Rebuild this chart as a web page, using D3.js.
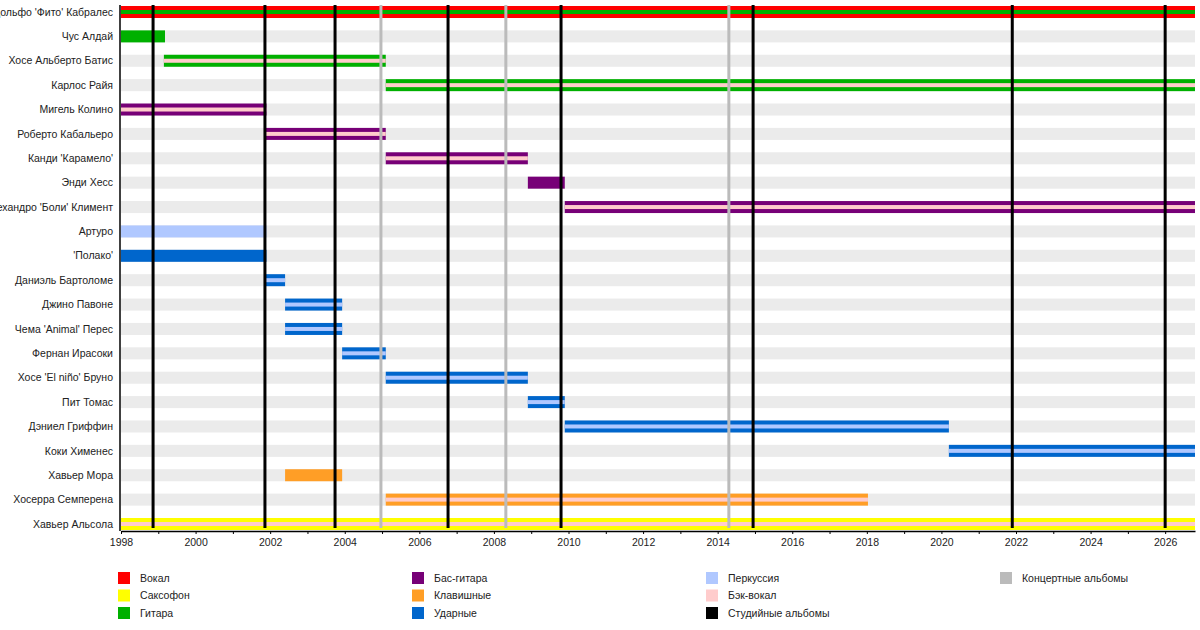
<!DOCTYPE html>
<html><head><meta charset="utf-8">
<script src="https://cdn.jsdelivr.net/npm/d3@7"></script>
<style>body{margin:0;background:#fff;font-family:"Liberation Sans",Arial,sans-serif}</style>
</head><body><div id="chart"></div>
<script>
const width = 1200, height = 630;

const members = ["Адольфо 'Фито' Кабралес","Чус Алдай","Хосе Альберто Батис","Карлос Райя","Мигель Колино","Роберто Кабальеро","Канди 'Карамело'","Энди Хесс","Алехандро 'Боли' Климент","Артуро","'Полако'","Даниэль Бартоломе","Джино Павоне","Чема 'Animal' Перес","Фернан Ирасоки","Хосе 'El niño' Бруно","Пит Томас","Дэниел Гриффин","Коки Хименес","Хавьер Мора","Хосерра Семперена","Хавьер Альсола"];
const END = 2026.8;
// [member, start, end, main role, second role]
const periods = [
  ["Адольфо 'Фито' Кабралес",1998,END,"vocal","guitar"],
  ["Чус Алдай",1998,1999.18,"guitar",null],
  ["Хосе Альберто Батис",1999.15,2005.1,"guitar","back"],
  ["Карлос Райя",2005.1,END,"guitar","back"],
  ["Мигель Колино",1998,2001.9,"bass","back"],
  ["Роберто Кабальеро",2001.88,2005.1,"bass","back"],
  ["Канди 'Карамело'",2005.1,2008.91,"bass","back"],
  ["Энди Хесс",2008.91,2009.9,"bass",null],
  ["Алехандро 'Боли' Климент",2009.9,END,"bass","back"],
  ["Артуро",1998,2001.9,"perc",null],
  ["'Полако'",1998,2001.9,"drums",null],
  ["Даниэль Бартоломе",2001.88,2002.4,"drums","perc"],
  ["Джино Павоне",2002.4,2003.93,"drums","perc"],
  ["Чема 'Animal' Перес",2002.4,2003.93,"drums","perc"],
  ["Фернан Ирасоки",2003.93,2005.1,"drums","perc"],
  ["Хосе 'El niño' Бруно",2005.1,2008.91,"drums","perc"],
  ["Пит Томас",2008.91,2009.9,"drums","perc"],
  ["Дэниел Гриффин",2009.9,2020.2,"drums","perc"],
  ["Коки Хименес",2020.2,END,"drums","perc"],
  ["Хавьер Мора",2002.4,2003.93,"keys",null],
  ["Хосерра Семперена",2005.1,2018.03,"keys","back"],
  ["Хавьер Альсола",1998,END,"sax","back"]
];
const studioAlbums = [1998.86,2001.86,2003.74,2006.77,2009.8,2014.95,2021.9,2026];
const liveAlbums = [2004.97,2008.32,2014.3];

const roles = ["vocal","sax","guitar","bass","keys","drums","perc","back","studio","live"];
const roleNames = ["Вокал","Саксофон","Гитара","Бас-гитара","Клавишные","Ударные","Перкуссия","Бэк-вокал","Студийные альбомы","Концертные альбомы"];
const roleColors = ["#ff0000","#ffff00","#00b000","#770077","#ff9e26","#0066cc","#b0c8ff","#ffcccc","#000000","#bbbbbb"];
const color = d3.scaleOrdinal(roles, roleColors);

const svg = d3.select("#chart").append("svg").attr("width", width).attr("height", height)
  .style("font-family", "'Liberation Sans', Arial, sans-serif");

const x = d3.scaleLinear().domain([1998, END]).range([121, 1195]);
const y = d3.scalePoint().domain(members).range([12, 524]);
const bh = 12;

// row bands
svg.selectAll("rect.band").data(members).enter().append("rect")
  .attr("x", 121).attr("width", 1195 - 121)
  .attr("y", d => y(d) - bh / 2).attr("height", bh).attr("fill", "#ebebeb");

// bars
svg.selectAll("rect.bar").data(periods).enter().append("rect")
  .attr("x", d => x(d[1])).attr("width", d => x(d[2]) - x(d[1]))
  .attr("y", d => y(d[0]) - bh / 2).attr("height", bh).attr("fill", d => color(d[3]));
svg.selectAll("rect.stripe").data(periods.filter(d => d[4])).enter().append("rect")
  .attr("x", d => x(d[1])).attr("width", d => x(d[2]) - x(d[1]))
  .attr("y", d => y(d[0]) - bh / 6).attr("height", bh / 3).attr("fill", d => color(d[4]));

// album lines
svg.selectAll("line.live").data(liveAlbums).enter().append("line")
  .attr("x1", d => x(d)).attr("x2", d => x(d)).attr("y1", 5).attr("y2", 528)
  .attr("stroke", color("live")).attr("stroke-width", 3);
svg.selectAll("line.studio").data(studioAlbums).enter().append("line")
  .attr("x1", d => x(d)).attr("x2", d => x(d)).attr("y1", 5).attr("y2", 528)
  .attr("stroke", "#000").attr("stroke-width", 3);

// axes
const xAxis = d3.axisBottom(x).tickValues(d3.range(1998, 2027, 1))
  .tickFormat(d => d % 2 === 0 ? d : "").tickSize(3).tickSizeOuter(0);
const gx = svg.append("g").attr("transform", "translate(0,531)").call(xAxis);
gx.select(".domain").attr("stroke", "#000").attr("stroke-width", 1.5);
gx.selectAll("text").attr("font-size", 10.5).attr("fill", "#222").attr("dy", "0.9em");

svg.append("line").attr("x1", 120).attr("x2", 120).attr("y1", 5).attr("y2", 531)
  .attr("stroke", "#000").attr("stroke-width", 1.5);
svg.selectAll("text.name").data(members).enter().append("text")
  .attr("x", 113).attr("y", d => y(d)).attr("dy", "0.35em")
  .attr("text-anchor", "end").attr("font-size", 10.5).attr("fill", "#222").text(d => d);

// legend
const lg = svg.selectAll("g.leg").data(roles).enter().append("g")
  .attr("transform", (d, i) => `translate(${118 + Math.floor(i / 3) * 294},${572 + (i % 3) * 17.5})`);
lg.append("rect").attr("width", 12).attr("height", 12).attr("fill", d => color(d));
lg.append("text").attr("x", 22).attr("y", 6).attr("dy", "0.35em").attr("font-size", 10.5)
  .attr("fill", "#222").text((d, i) => roleNames[i]);
</script></body></html>
